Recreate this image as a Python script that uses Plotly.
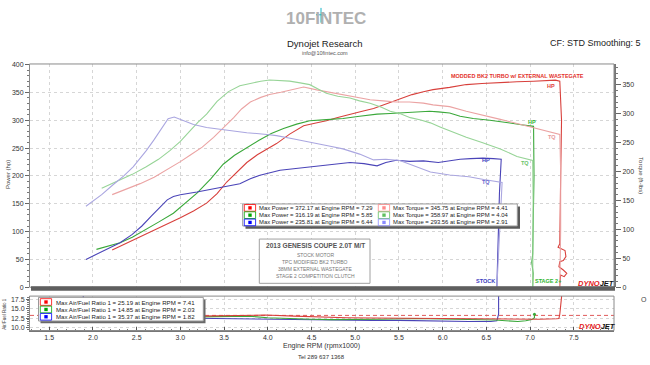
import plotly.graph_objects as go

W, H = 650, 365
FONT = "Liberation Sans, Arial, sans-serif"

def px(x):
    return x / W

def py(y):
    return 1 - y / H

# ---------------- data ----------------
# Stock (blue)
stock_hp_rpm = [1.92, 2.10, 2.31, 2.45, 2.56, 2.67, 2.77, 2.85, 2.92, 3.00, 3.19, 3.45, 3.68, 3.80, 3.91,
                4.14, 4.35, 4.56, 4.75, 4.94, 5.10, 5.25, 5.35, 5.47, 5.62, 5.78, 5.95, 6.08, 6.20, 6.32,
                6.46, 6.58, 6.67, 6.65, 6.64, 6.63, 6.62]
stock_hp = [50, 64, 80, 95, 110, 128, 145, 157, 163, 166, 171, 179, 186, 195, 201,
            210, 214, 217, 221, 224, 222, 218, 224, 228, 226, 227, 224, 227, 230, 231,
            232, 231, 230, 170, 100, 30, 0]
stock_tq_rpm = [1.92, 2.10, 2.23, 2.35, 2.46, 2.61, 2.70, 2.77, 2.86, 2.93, 3.00, 3.15, 3.30, 3.45, 3.60,
                3.76, 3.99, 4.10, 4.30, 4.48, 4.70, 4.86, 5.05, 5.21, 5.35, 5.51, 5.70, 5.86, 6.08, 6.30,
                6.47, 6.60, 6.68, 6.66, 6.64, 6.63, 6.62]
stock_tq = [140, 160, 177, 192, 208, 236, 255, 270, 291, 294, 290, 281, 276, 273, 270,
            267, 264, 262, 256, 250, 244, 239, 230, 220, 221, 219, 208, 199, 194, 191,
            186, 183, 181, 120, 60, 20, 0]

# Stage 2+ (green)
stage_hp_rpm = [2.04, 2.20, 2.31, 2.45, 2.61, 2.75, 2.92, 3.05, 3.19, 3.35, 3.49, 3.62, 3.76, 3.90, 4.04,
                4.18, 4.33, 4.48, 4.67, 4.86, 5.05, 5.25, 5.40, 5.51, 5.65, 5.78, 5.85, 5.95, 6.08, 6.20,
                6.35, 6.54, 6.66, 6.77, 6.90, 7.04, 7.045, 7.04, 7.03, 7.02, 7.035, 7.03]
stage_hp = [68, 75, 80, 90, 104, 117, 133, 150, 169, 195, 221, 237, 251, 264, 276,
            285, 293, 299, 301, 303, 307, 311, 312, 313, 314, 316, 316, 315, 313, 307,
            303, 300, 298, 295, 292, 289, 200, 100, 60, 45, 25, 0]
stage_tq_rpm = [2.10, 2.31, 2.45, 2.61, 2.75, 2.88, 3.00, 3.11, 3.20, 3.30, 3.42, 3.55, 3.68, 3.80, 3.92,
                4.02, 4.15, 4.25, 4.37, 4.48, 4.58, 4.67, 4.80, 4.94, 5.05, 5.17, 5.30, 5.40, 5.51, 5.63,
                5.75, 5.86, 5.97, 6.08, 6.27, 6.45, 6.66, 6.85, 7.03, 7.035, 7.03, 7.03]
stage_tq = [171, 185, 195, 208, 221, 236, 252, 270, 285, 299, 321, 338, 348, 352, 356,
            358, 357, 356, 353, 350, 342, 335, 330, 327, 322, 318, 311, 304, 300, 293,
            289, 284, 277, 270, 259, 250, 239, 226, 219, 150, 60, 0]

# Modded BK2 turbo (red)
mod_hp_rpm = [2.22, 2.40, 2.61, 2.80, 3.00, 3.15, 3.30, 3.42, 3.53, 3.65, 3.76, 3.88, 3.99, 4.10, 4.25,
              4.41, 4.55, 4.67, 4.80, 4.94, 5.08, 5.21, 5.36, 5.51, 5.65, 5.78, 5.89, 6.08, 6.27, 6.45,
              6.66, 6.85, 7.04, 7.18, 7.29, 7.34, 7.36, 7.35, 7.345, 7.34, 7.32, 7.40, 7.41, 7.38, 7.34,
              7.33, 7.38, 7.42, 7.39, 7.35, 7.34, 7.34]
mod_hp = [67, 80, 95, 110, 125, 137, 151, 168, 189, 207, 224, 238, 248, 258, 275,
          290, 295, 299, 305, 311, 316, 321, 330, 338, 346, 351, 355, 359, 364, 366,
          368, 369, 370, 371, 372, 370, 300, 200, 120, 78, 72, 66, 55, 48, 46,
          37, 31, 25, 19, 22, 5, 0]
mod_tq_rpm = [2.22, 2.40, 2.54, 2.70, 2.84, 3.00, 3.11, 3.25, 3.38, 3.50, 3.61, 3.70, 3.80, 3.92, 4.02,
              4.15, 4.28, 4.41, 4.56, 4.70, 4.86, 5.02, 5.17, 5.32, 5.47, 5.62, 5.78, 5.89, 6.08, 6.27,
              6.45, 6.66, 6.85, 7.04, 7.20, 7.34, 7.35, 7.35, 7.34]
mod_tq = [160, 170, 179, 190, 202, 217, 228, 242, 259, 276, 293, 308, 320, 328, 333,
          337, 342, 346, 341, 337, 332, 328, 324, 322, 320, 320, 318, 315, 312, 304,
          298, 290, 283, 276, 270, 264, 200, 100, 0]

# Air/Fuel ratio
afr_stock_rpm = [1.82, 1.86, 1.90, 1.95, 2.0, 2.3, 2.7, 3.0, 3.21, 3.5, 3.8, 4.0, 4.3, 4.54, 4.9,
                 5.2, 5.5, 5.7, 6.0, 6.3, 6.55, 6.62, 6.64, 6.64, 6.65]
afr_stock = [35.4, 24, 16, 13.6, 13.0, 12.7, 12.6, 12.5, 12.5, 12.3, 12.15, 12.1, 12.05, 12.0, 11.9,
             11.85, 11.9, 11.8, 11.7, 11.6, 11.6, 11.8, 13.5, 18, 25]
afr_stage_rpm = [2.03, 2.08, 2.2, 2.5, 3.0, 3.21, 3.5, 3.78, 4.0, 4.26, 4.5, 4.73, 5.0, 5.3, 5.68,
                 6.0, 6.39, 6.6, 6.72, 6.86, 6.95, 7.02, 7.05, 7.05]
afr_stage = [14.85, 13.8, 13.2, 13.0, 12.8, 12.8, 12.9, 13.0, 12.6, 12.3, 12.2, 12.1, 12.1, 12.2, 12.4,
             12.3, 12.2, 12.0, 11.8, 11.6, 11.8, 12.1, 12.6, 13.5]
afr_mod_rpm = [2.22, 2.5, 3.0, 3.21, 3.6, 3.97, 4.3, 4.54, 4.9, 5.2, 5.5, 5.91, 6.2, 6.39, 6.6,
               6.86, 7.1, 7.3, 7.33, 7.34, 7.35, 7.36, 7.37]
afr_mod = [13.5, 13.3, 13.1, 13.0, 13.2, 13.3, 13.0, 12.8, 12.6, 12.5, 12.45, 12.4, 12.3, 12.2, 12.2,
           12.2, 12.2, 12.3, 12.4, 13.5, 15.5, 18.0, 25.19]
afr_target = 13.2

x_ticks = [1.5, 2.0, 2.5, 3.0, 3.5, 4.0, 4.5, 5.0, 5.5, 6.0, 6.5, 7.0, 7.5]
hp_ticks = [0, 50, 100, 150, 200, 250, 300, 350, 400]
tq_ticks = [0, 50, 100, 150, 200, 250, 300, 350]
afr_ticks = [10.0, 12.5, 15.0, 17.5]

power_legend = ["Max Power = 372.17 at Engine RPM = 7.29",
                "Max Power = 316.19 at Engine RPM = 5.85",
                "Max Power = 235.81 at Engine RPM = 6.44"]
torque_legend = ["Max Torque = 345.75 at Engine RPM = 4.41",
                 "Max Torque = 358.97 at Engine RPM = 4.04",
                 "Max Torque = 293.56 at Engine RPM = 2.91"]
afr_legend = ["Max Air/Fuel Ratio 1 = 25.19 at Engine RPM = 7.41",
              "Max Air/Fuel Ratio 1 = 14.85 at Engine RPM = 2.03",
              "Max Air/Fuel Ratio 1 = 35.37 at Engine RPM = 1.82"]
info_title = "2013 GENESIS COUPE 2.0T M/T"
info_lines = ["STOCK MOTOR", "TPC MODIFIED BK2 TURBO", "38MM EXTERNAL WASTEGATE", "STAGE 2 COMPETITION CLUTCH"]

# ---------------- styles ----------------
C_RED_HP, C_RED_TQ = "#d8403c", "#eba3a3"
C_GRN_HP, C_GRN_TQ = "#3aa83a", "#97d497"
C_BLU_HP, C_BLU_TQ = "#4a44b8", "#aaa6e0"
SW_HP = ["#ff0000", "#00a800", "#0000ff"]
SW_TQ = ["#ff8a8a", "#60c060", "#8a8aff"]

X_RANGE = [1.28, 7.96]

fig = go.Figure()

def line(xs, ys, color, xa="x", ya="y", width=1.1, dash="solid"):
    fig.add_trace(go.Scatter(x=xs, y=ys, xaxis=xa, yaxis=ya, mode="lines",
                             line=dict(color=color, width=width, dash=dash),
                             hoverinfo="skip", showlegend=False))

# torque first (lighter), then power
line(mod_tq_rpm, mod_tq, C_RED_TQ, ya="y2")
line(stage_tq_rpm, stage_tq, C_GRN_TQ, ya="y2")
line(stock_tq_rpm, stock_tq, C_BLU_TQ, ya="y2")
line(mod_hp_rpm, mod_hp, C_RED_HP)
line(stage_hp_rpm, stage_hp, C_GRN_HP)
line(stock_hp_rpm, stock_hp, C_BLU_HP)

# AFR panel
line([X_RANGE[0], X_RANGE[1]], [afr_target, afr_target], "#e05a5a", xa="x2", ya="y3", width=1, dash="4px,3px")
line(afr_stock_rpm, afr_stock, C_BLU_HP, xa="x2", ya="y3")
line(afr_stage_rpm, afr_stage, C_GRN_HP, xa="x2", ya="y3")
line(afr_mod_rpm, afr_mod, C_RED_HP, xa="x2", ya="y3")
fig.add_trace(go.Scatter(x=afr_stage_rpm[-1:], y=afr_stage[-1:], xaxis="x2", yaxis="y3", mode="markers",
                         marker=dict(color=C_GRN_HP, size=3), hoverinfo="skip", showlegend=False))

tickfont = dict(family=FONT, size=7, color="#333")
grid = dict(showgrid=True, gridcolor="#d6d6d6", griddash="dot", gridwidth=1)

fig.update_layout(
    width=W, height=H, margin=dict(l=0, r=0, t=0, b=0),
    paper_bgcolor="white", plot_bgcolor="white", showlegend=False,
    font=dict(family=FONT, color="#333"),
    xaxis=dict(domain=[px(30), px(614)], range=X_RANGE, anchor="y", tickvals=x_ticks,
               showticklabels=False, ticks="", zeroline=False, showline=False, **grid),
    yaxis=dict(domain=[py(289), py(62)], range=[0, 401], anchor="x", tickvals=hp_ticks,
               ticks="outside", ticklen=4, tickcolor="#666", tickfont=tickfont,
               minor=dict(dtick=10, ticklen=2, tickcolor="#777", ticks="outside", showgrid=False),
               showline=True, linecolor="#777", linewidth=1, zeroline=False, **grid),
    yaxis2=dict(overlaying="y", side="right", anchor="x", range=[0, 385.7], tickvals=tq_ticks,
                ticks="outside", ticklen=5, tickcolor="#666", tickfont=tickfont,
                minor=dict(dtick=10, ticklen=2, tickcolor="#777", ticks="outside"),
                showline=True, linecolor="#777", linewidth=2, showgrid=False, zeroline=False),
    xaxis2=dict(domain=[px(30), px(614)], range=X_RANGE, anchor="y3", tickvals=x_ticks,
                tickformat=".1f", ticks="inside", ticklen=4, tickcolor="#555", tickfont=tickfont,
                minor=dict(dtick=0.1, ticklen=2, tickcolor="#777", ticks="inside"),
                showline=True, linecolor="#777", linewidth=1, zeroline=False, **grid),
    yaxis3=dict(domain=[py(333), py(298)], range=[9.22, 18.28], anchor="x2", tickvals=afr_ticks,
                tickformat=".1f", ticks="outside", ticklen=3, tickcolor="#666", tickfont=tickfont,
                minor=dict(dtick=0.5, ticklen=2, tickcolor="#777", ticks="outside"),
                showline=True, linecolor="#777", linewidth=1, zeroline=False, **grid),
    yaxis4=dict(overlaying="y3", side="right", anchor="x2", range=[9.22, 18.28], tickvals=afr_ticks,
                tickformat=".1f", ticks="outside", ticklen=4, tickcolor="#666", tickfont=tickfont,
                minor=dict(dtick=0.5, ticklen=2, tickcolor="#777", ticks="outside"),
                showline=True, linecolor="#777", linewidth=1, showgrid=False, zeroline=False),
)

shapes = []
def rect(x0, y0, x1, y1, fill=None, color="#888", width=1, layer="above"):
    shapes.append(dict(type="rect", xref="paper", yref="paper", x0=px(x0), x1=px(x1), y0=py(y1), y1=py(y0),
                       fillcolor=fill if fill else "rgba(0,0,0,0)",
                       line=dict(color=color, width=width), layer=layer))

def seg(x0, y0, x1, y1, color, width=1):
    shapes.append(dict(type="line", xref="paper", yref="paper", x0=px(x0), x1=px(x1), y0=py(y0), y1=py(y1),
                       line=dict(color=color, width=width)))

# frames
rect(29.5, 62, 614, 289, color="#8a8a8a")
rect(29.5, 298, 614, 333, color="#8a8a8a")
rect(31, 288, 615, 292.5, fill="#5f5f5f", color="#5f5f5f", width=0)

# main legend box
rect(245.5, 206.8, 520, 229.4, fill="#5a5a5a", color="#5a5a5a", width=0)
rect(242.7, 204.3, 517.3, 226.7, fill="white", color="#999")
row_y = [208.3, 215.7, 223.1]
for i, ry in enumerate(row_y):
    rect(244.3, ry - 3.4, 255.6, ry + 3.4, color=SW_HP[i], width=0.8)
    rect(248.3, ry - 1.7, 251.7, ry + 1.7, fill=SW_HP[i], color=SW_HP[i], width=0)
    rect(378.3, ry - 3.4, 389.6, ry + 3.4, color=SW_TQ[i], width=0.8)
    rect(382.3, ry - 1.7, 385.7, ry + 1.7, fill=SW_TQ[i], color=SW_TQ[i], width=0)

# info box
rect(259.3, 240, 370, 285, fill="white", color="#a0a0a0")

# AFR legend box
rect(40.5, 301.5, 205.5, 325.5, fill="#6a6a6a", color="#6a6a6a", width=0)
rect(38.5, 299.3, 203.3, 323.3, fill="white", color="#999")
afr_row_y = [304.0, 311.6, 319.0]
for i, ry in enumerate(afr_row_y):
    rect(40.3, ry - 3.4, 51.6, ry + 3.4, color=SW_HP[i], width=0.8)
    rect(44.3, ry - 1.7, 47.7, ry + 1.7, fill=SW_HP[i], color=SW_HP[i], width=0)

# cyan sparkle of the header logo
seg(321, 5, 321, 20, "#19b5c8", 1)
seg(316, 12, 326, 12, "#19b5c8", 1)

fig.update_layout(shapes=shapes)

ann = []
def text(x, y, s, size=7, color="#333", xanchor="center", bold=False, angle=0, family=FONT):
    if bold:
        s = "<b>" + s + "</b>"
    ann.append(dict(x=px(x), y=py(y), xref="paper", yref="paper", text=s, showarrow=False,
                    xanchor=xanchor, yanchor="middle", textangle=angle,
                    font=dict(family=family, size=size, color=color)))

# header
text(326, 16, "10FINTEC", size=17, color="#b0b0b0", bold=True)
text(325, 41, "Dynojet Research", size=9.5, color="#222")
text(325, 51, "info@10fintec.com", size=5.5, color="#555")
text(643, 41, "CF: STD Smoothing: 5", size=9, color="#222", xanchor="right")

# axis titles
text(8, 175, "Power (hp)", size=6, color="#444", angle=-90)
text(641, 175, "Torque (ft-lbs)", size=6, color="#444", angle=90)
text(5, 316, "Air/Fuel Ratio 1", size=4.5, color="#444", angle=-90)
text(644, 301, "O", size=7, color="#444")
text(321, 349, "Engine RPM (rpmx1000)", size=7, color="#333")
text(321, 360, "Tel 289 637 1368", size=6, color="#333")

# legend texts
for i, ry in enumerate(row_y):
    text(257, ry, power_legend[i], size=5.9, color="#222", xanchor="left")
    text(391, ry, torque_legend[i], size=5.9, color="#222", xanchor="left")
for i, ry in enumerate(afr_row_y):
    text(53.5, ry, afr_legend[i], size=6.1, color="#222", xanchor="left")

# info box texts
text(315, 247, info_title, size=6.6, color="#555", bold=True)
for i, s in enumerate(info_lines):
    text(315, 256.5 + i * 7.1, s, size=5, color="#777")

# curve labels
text(517, 74, "MODDED BK2 TURBO w/ EXTERNAL WASTEGATE", size=5.5, color="#e3322c", bold=True)
text(551, 84, "HP", size=5.5, color="#e0403a", bold=True)
text(552, 136, "TQ", size=5.5, color="#e89a9a", bold=True)
text(532, 121, "HP", size=5.5, color="#2fb52f", bold=True)
text(525, 163, "TQ", size=5.5, color="#6cc46c", bold=True)
text(486, 160, "HP", size=5.5, color="#3c3cbf", bold=True)
text(486, 182, "TQ", size=5.5, color="#6b6bd0", bold=True)
text(485, 283, "STOCK", size=5.5, color="#3c3cbf", bold=True)
text(548, 283, "STAGE 2+", size=5.5, color="#2fb52f", bold=True)

# dynojet marks
dj = "<i><b><span style='color:#e3201b'>DYNO</span><span style='color:#111'>JET</span></b></i>"
text(596, 285.5, dj, size=7.5)
text(597, 329, dj, size=7.5)

fig.update_layout(annotations=ann)

fig.write_html("out.html", config={"displayModeBar": False},
               post_script="document.body.style.margin='0';document.body.style.overflow='hidden';")
